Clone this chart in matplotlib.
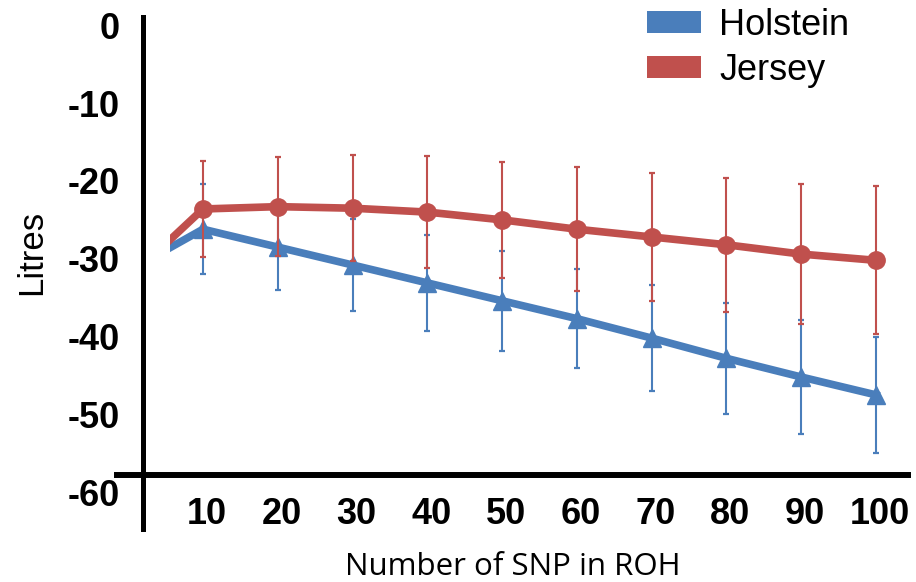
import matplotlib
matplotlib.use("Agg")
import matplotlib.pyplot as plt
from matplotlib.patches import Patch
from matplotlib.transforms import ScaledTranslation

# Milk yield effect (litres) by number of SNP in the run of homozygosity
snp = [5, 10, 20, 30, 40, 50, 60, 70, 80, 90, 100]
holstein = [-28.9, -26.2, -28.5, -30.8, -33.1, -35.4, -37.7, -40.2, -42.8, -45.2, -47.5]
holstein_err = [5.8, 5.8, 5.5, 5.9, 6.2, 6.4, 6.4, 6.8, 7.1, 7.3, 7.5]
jersey = [-28.1, -23.6, -23.3, -23.5, -24.0, -25.0, -26.2, -27.2, -28.2, -29.4, -30.2]
jersey_err = [6.2, 6.2, 6.4, 6.8, 7.2, 7.5, 8.0, 8.2, 8.6, 9.0, 9.5]

x_ticks = [10, 20, 30, 40, 50, 60, 70, 80, 90, 100]
y_ticks = [0, -10, -20, -30, -40, -50, -60]
series_names = ["Holstein", "Jersey"]

BLUE = "#4a7ebb"
RED = "#c0504d"

W, H = 916, 582
fig = plt.figure(figsize=(W / 100, H / 100), dpi=100)


def px_rect(left, top, right, bottom):
    return [left / W, 1 - bottom / H, (right - left) / W, (bottom - top) / H]


ax = fig.add_axes(px_rect(170, 17, 908, 529))
ax.set_xlim(5.59, 104.28)
ax.set_ylim(-64.74, 1.08)

# Holstein series
ax.errorbar(snp, holstein, yerr=holstein_err, fmt="none", ecolor=BLUE,
            elinewidth=1.5, capsize=2.4, capthick=1.6, zorder=2)
ax.plot(snp, holstein, color=BLUE, lw=5.5, marker="^", markersize=13,
        markevery=list(range(1, len(snp))), zorder=3)

# Jersey series
ax.errorbar(snp, jersey, yerr=jersey_err, fmt="none", ecolor=RED,
            elinewidth=1.5, capsize=2.4, capthick=1.6, zorder=4)
ax.plot(snp, jersey, color=RED, lw=5.5, marker="o", markersize=12.5,
        markevery=list(range(1, len(snp))), zorder=5)

# Axes lines
x_axis_y = -57.8
for side in ("top", "right"):
    ax.spines[side].set_visible(False)
ax.spines["left"].set_position(("outward", 19.1))
ax.spines["left"].set_linewidth(3.6)
ax.spines["bottom"].set_position(("data", x_axis_y))
ax.spines["bottom"].set_visible(False)
ax.axhline(x_axis_y, xmin=-(170 - 117) / 738, xmax=1, color="black",
           lw=4.3, clip_on=False, zorder=6)

tick_font = dict(family="Liberation Sans", weight="bold", size=26)
ax.set_xticks(x_ticks)
ax.set_xticklabels([str(v) for v in x_ticks], **tick_font)
ax.set_yticks(y_ticks)
ax.set_yticklabels([str(v) for v in y_ticks], **tick_font)
ax.tick_params(axis="x", length=0, pad=16)
ax.tick_params(axis="y", length=0, pad=17)
shift = ScaledTranslation(4 / 100, 0, fig.dpi_scale_trans)
for lbl in ax.get_xticklabels():
    lbl.set_transform(lbl.get_transform() + shift)

fig.text(32 / W, 1 - 252 / H, "Litres", rotation=90, ha="center", va="center",
         family="Liberation Sans", size=25)
fig.text(513 / W, 0.0, "Number of SNP in ROH", ha="center",
         va="bottom", family="Open Sans", size=22.5)

handles = [Patch(facecolor=BLUE, edgecolor="none"),
           Patch(facecolor=RED, edgecolor="none")]
fig.legend(handles, series_names, loc="upper left",
           bbox_to_anchor=(647 / W, 1 - 8 / H), frameon=False,
           prop=dict(family="Liberation Sans", size=26),
           handlelength=1.5, handleheight=0.55, handletextpad=0.5,
           labelspacing=0.27, borderpad=0, borderaxespad=0)

fig.savefig("out.png", dpi=100)
